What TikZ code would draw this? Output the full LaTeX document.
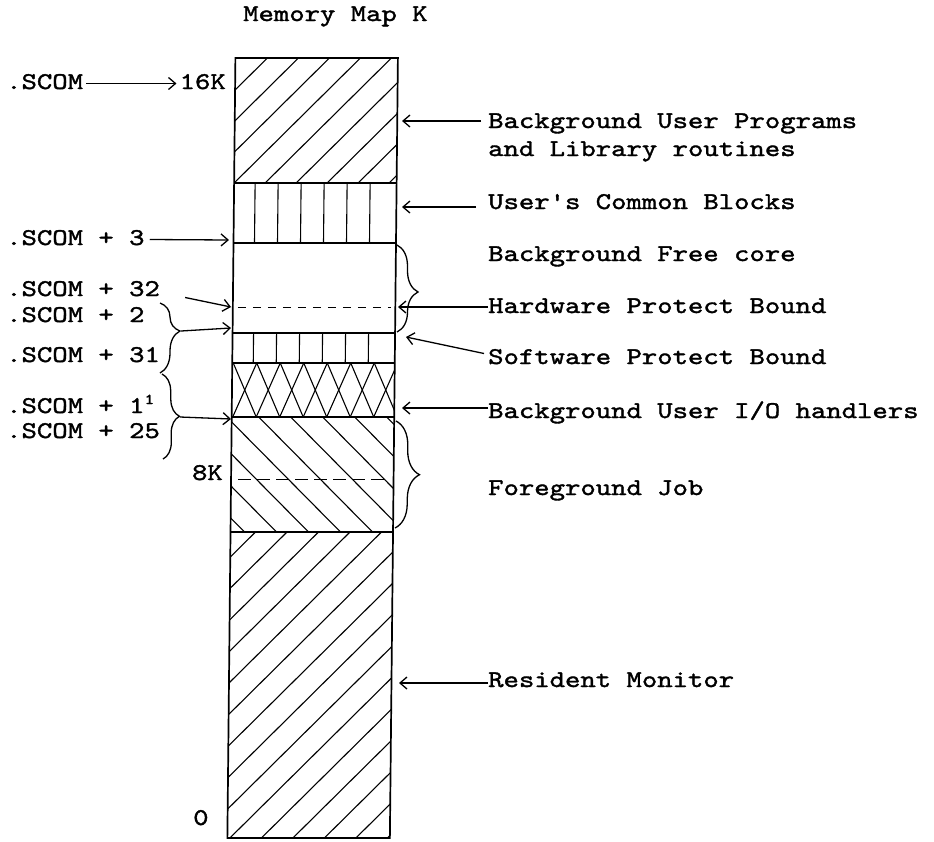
\documentclass[tikz,border=0pt]{standalone}
\usepackage{fontspec}
\usetikzlibrary{arrows.meta,decorations.pathreplacing}

\newfontfamily\tw{lmmono10-regular}[Extension=.otf,FakeStretch=1.22,FakeBold=1.5]

\tikzset{
  txt/.style={font=\tw\fontsize{24}{28}\selectfont, inner sep=0pt,
    text height=16pt, text depth=5pt, anchor=base west},
  ptr/.style={-{Straight Barb[length=7pt,width=12pt]}, line width=1.3pt},
  wall/.style={line width=1.7pt},
  hatch/.style={line width=1.1pt},
  brc/.style={decorate, decoration={brace, amplitude=#1}, line width=1.3pt},
}

\begin{document}
\begin{tikzpicture}[x=1pt,y=-1pt]
\useasboundingbox (0,0) rectangle (934,841);

% title
\node[txt] (title) at (243,21) {Memory Map K};

% the memory column (the scan leans a little)
\begin{scope}[xslant=0.0103]
% background programs
\begin{scope}
\clip (236,58) rectangle (398.5,183);
\foreach \c in {295,326,...,605} \draw[hatch] (\c,0) -- ++(-700,700);
\end{scope}
% common blocks
\foreach \x in {257,280,...,372} \draw[hatch] (\x,183) -- (\x,243);
% software protect
\foreach \x in {257,280,...,372} \draw[hatch] (\x,333) -- (\x,363);
% i/o handlers
\begin{scope}
\clip (236,363) rectangle (398.5,417);
\foreach \x in {237,260.5,...,378} {
  \draw[hatch] (\x,363) -- ++(23.5,54);
  \draw[hatch] (\x+23.5,363) -- ++(-23.5,54);
}
\end{scope}
% foreground job
\begin{scope}
\clip (236,417) rectangle (398.5,532);
\foreach \c in {-282,-250,...,-26} \draw[hatch] (\c,0) -- ++(700,700);
\end{scope}
% resident monitor
\begin{scope}
\clip (236,532) rectangle (398.5,838);
\foreach \c in {761.5,793,...,1240} \draw[hatch] (\c,0) -- ++(-900,900);
\end{scope}
% bounds
\draw[line width=1pt, dash pattern=on 8pt off 7pt] (241,307) -- (394,307);
\draw[line width=1pt, dash pattern=on 13pt off 6pt] (243,479) -- (392,479);
\foreach \y in {183,243,333,363,417,532} \draw[wall] (236,\y) -- (398.5,\y);
\draw[wall] (236,58) rectangle (398.5,838);
\end{scope}

% arrow ends at the column
\coordinate (e3) at (229,240);
\coordinate (e32) at (231,307);
\coordinate (e2) at (231,328);
\coordinate (e1) at (231,419);
\coordinate (eprog) at (402,121);
\coordinate (ecomm) at (402,207);
\coordinate (ehw) at (398,307);
\coordinate (esw) at (406,337);
\coordinate (eio) at (402,408);
\coordinate (eres) at (399,683);

% left labels
\node[txt] (scom) at (6,89) {.SCOM};
\node[txt, anchor=base east] (k16) at (226,89) {16K};
\node[txt] (s3) at (6,245) {.SCOM + 3};
\node[txt] (s32) at (6,296) {.SCOM + 32};
\node[txt] (s2) at (6,322) {.SCOM + 2};
\node[txt] (s31) at (6,362) {.SCOM + 31};
\node[txt] (s1) at (6,413) {.SCOM + 1\raisebox{9pt}{\fontsize{15}{15}\selectfont 1}};
\node[txt] (s25) at (6,438) {.SCOM + 25};
\node[txt, anchor=base east] (k8) at (223,480) {8K};
\node[txt] (k0) at (193,825) {0};

\draw[ptr] ([xshift=3pt]scom.east) -- ([xshift=-3pt]k16.west);
\draw[ptr] ([xshift=5pt]s3.east) -- (e3);
\draw[ptr] ([xshift=25pt,yshift=-7pt]s32.east) -- (e32);

% braces on the left
\coordinate (b1) at (181,331);
\coordinate (b2) at (180,417);
\draw[brc=20pt, decoration={aspect=0.4}] (160,303) -- (160,373);
\draw[brc=17pt] (162,374) -- (163,459);
\draw[ptr] (b1) -- (e2);
\draw[ptr] (b2) -- (e1);

% right labels
\node[txt] (prog) at (488,128) {Background User Programs};
\node[txt] (lib) at (488,156) {and Library routines};
\node[txt] (comm) at (488,209) {User's Common Blocks};
\node[txt] (free) at (488,261) {Background Free core};
\node[txt] (hw) at (488,313) {Hardware Protect Bound};
\node[txt] (sw) at (488,364) {Software Protect Bound};
\node[txt] (io) at (488,418) {Background User I/O handlers};
\node[txt] (fg) at (488,495) {Foreground Job};
\node[txt] (res) at (488,687) {Resident Monitor};

\draw[ptr] ([xshift=-7pt]prog.west |- eprog) -- (eprog);
\draw[ptr] ([xshift=-12pt]comm.west |- ecomm) -- (ecomm);
\draw[ptr] (hw.west |- ehw) -- (ehw);
\draw[ptr] ([xshift=-4pt,yshift=5pt]sw.west) -- (esw);
\draw[ptr] (io.west |- eio) -- (eio);
\draw[ptr] (res.west |- eres) -- (eres);

% braces on the right
\draw[brc=21pt, decoration={aspect=0.54}] (397,245) -- (397,332);
\draw[brc=24pt] (396,421) -- (395,528);

\end{tikzpicture}
\end{document}
